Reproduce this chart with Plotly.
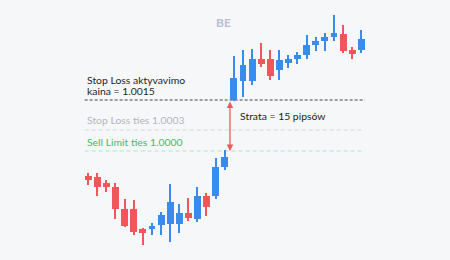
import plotly.graph_objects as go

# candle data (arbitrary price units)
idx = list(range(31))
open_ = [84, 83, 77, 73, 51, 51, 31, 31, 35, 36, 36, 47, 41, 64, 64, 93,
         160, 179, 179, 201, 201, 190, 197, 201, 205, 215, 219, 223, 226, 210, 210]
high = [87, 87, 80, 77, 61, 60, 32, 37, 48, 76, 56, 62, 73, 67, 102, 110,
        204, 210, 211, 217, 210, 210, 205, 208, 225, 223, 227, 245, 235, 213, 230]
low = [75, 64, 68, 41, 33, 25, 15, 25, 25, 18, 27, 39, 38, 44, 61, 90,
       159, 163, 175, 193, 180, 180, 192, 196, 201, 209, 209, 219, 207, 201, 207]
close = [80, 73, 73, 51, 34, 28, 27, 34, 45, 58, 47, 42, 64, 53, 93, 103,
         182, 195, 201, 196, 184, 200, 201, 205, 215, 219, 223, 227, 209, 206, 221]

levels = [160, 130, 109]   # stop-loss activation, stop-loss, sell limit
label_sl_act = ["Stop Loss aktyvavimo", "kaina = 1.0015"]
label_sl = "Stop Loss ties 1.0003"
label_lim = "Sell Limit ties 1.0000"
label_gap = "Strata = 15 pipsów"
title = "BE"

BLUE = "#3a8bee"
RED = "#f2555a"
colors = [BLUE if c >= o else RED for o, c in zip(open_, close)]

fig = go.Figure()
fig.add_trace(go.Bar(x=idx, y=[h - l for h, l in zip(high, low)], base=low, width=0.14,
                     marker=dict(color=colors, line=dict(width=0)), hoverinfo="skip"))
fig.add_trace(go.Bar(x=idx, y=[abs(c - o) for o, c in zip(open_, close)],
                     base=[min(o, c) for o, c in zip(open_, close)], width=0.76,
                     marker=dict(color=colors, line=dict(width=0)), hoverinfo="skip"))

x_l, x_r = -0.4, 30.4
line_styles = [("#444444", "3px,2px"), ("#d6d8dd", "4px,3px"), ("#b5e2c4", "4px,3px")]
for lv, (col, dash) in zip(levels, line_styles):
    fig.add_shape(type="line", x0=x_l, x1=x_r, y0=lv, y1=lv, xref="x", yref="y",
                  line=dict(color=col, width=1, dash=dash), layer="below")

FONT = "Lato"
FS = 10.4

def label(x, y, text, color, **kw):
    fig.add_annotation(x=x, y=y, xref="x", yref="y", text=text, showarrow=False,
                       xanchor="left", yanchor="middle", align="left",
                       font=dict(family=FONT, size=FS, color=color), **kw)

label(x_l, 180, label_sl_act[0], "#1e1e1e")
label(x_l, 169.5, label_sl_act[1], "#1e1e1e")
label(x_l, 140, label_sl, "#b3b5bd")
label(x_l, 118.5, label_lim, "#48b86a")
label(16.5, 144, label_gap, "#1e1e1e")
fig.add_annotation(x=14.9, y=238, xref="x", yref="y", text="<b>" + title + "</b>", showarrow=False,
                   xanchor="center", yanchor="middle",
                   font=dict(family=FONT, size=12, color="#b9bdd8"))
# double arrow
fig.add_annotation(x=15.57, y=levels[2], ax=15.57, ay=levels[0], xref="x", yref="y",
                   axref="x", ayref="y", text="", showarrow=True, arrowhead=2,
                   arrowside="end+start", arrowsize=1, arrowwidth=1.3, arrowcolor="#ef5a5f",
                   standoff=0, startstandoff=0)

fig.update_layout(
    width=450, height=260, margin=dict(l=0, r=0, t=0, b=0),
    paper_bgcolor="#f6f7f9", plot_bgcolor="#f6f7f9",
    showlegend=False, barmode="overlay", bargap=0,
    xaxis=dict(range=[-9.703, 39.75], visible=False, fixedrange=True),
    yaxis=dict(range=[0, 260], visible=False, fixedrange=True),
)
fig.write_html("out.html", config={"displayModeBar": False})
